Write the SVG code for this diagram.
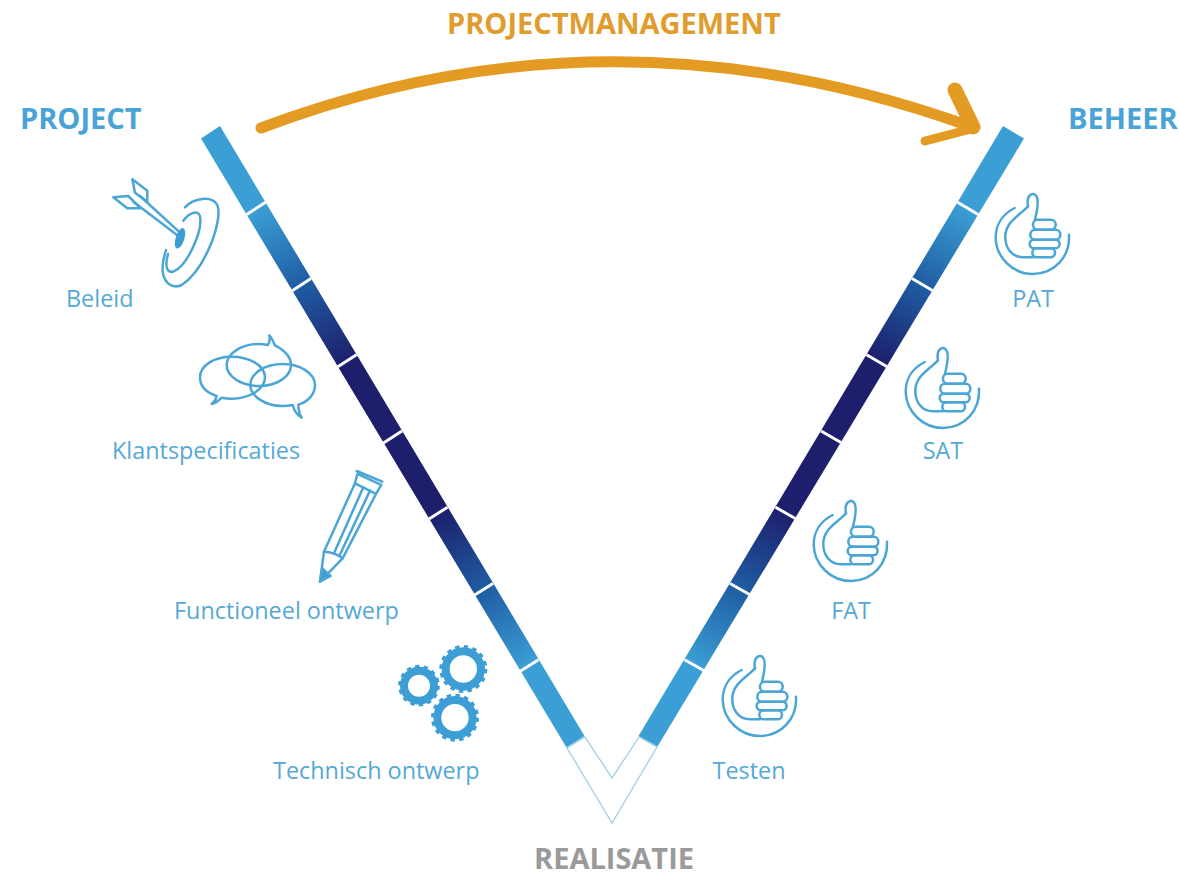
<svg xmlns="http://www.w3.org/2000/svg" width="1179" height="873" viewBox="0 0 1179 873">
<style>
text{font-family:"Open Sans","Liberation Sans",sans-serif}
.h{font-size:29px;font-weight:700;fill:#4aa3d6}
.l{font-size:23.4px;fill:#55a9d4}
.i{fill:none;stroke:#4ba6d6;stroke-width:7.5;stroke-linecap:round;stroke-linejoin:round}
.sep{stroke:#fff;stroke-width:3}
.gr{fill:none;stroke:#3d9dd5}
</style>
<defs>
<linearGradient id="gl" gradientUnits="userSpaceOnUse" x1="211" y1="132" x2="575.5" y2="741.5">
<stop offset=".125" stop-color="#3b9fd5"/><stop offset=".25" stop-color="#1f5da3"/><stop offset=".375" stop-color="#1d1f6c"/><stop offset=".625" stop-color="#1d1f6c"/><stop offset=".75" stop-color="#1f5da3"/><stop offset=".875" stop-color="#3b9fd5"/>
</linearGradient>
<linearGradient id="gr" gradientUnits="userSpaceOnUse" x1="1013" y1="132" x2="648" y2="741">
<stop offset=".125" stop-color="#3b9fd5"/><stop offset=".25" stop-color="#1f5da3"/><stop offset=".375" stop-color="#1d1f6c"/><stop offset=".625" stop-color="#1d1f6c"/><stop offset=".75" stop-color="#1f5da3"/><stop offset=".875" stop-color="#3b9fd5"/>
</linearGradient>
<g id="thumb" class="i" transform="translate(700,640) scale(.3333)">
<path d="M125,90C85,110 68,145 68,180C70,240 120,288 180,288C245,288 292,235 288,170"/>
<path d="M165,85C140,112 100,130 97,172C95,208 115,238 150,238L180,238"/>
<path d="M165,85C160,60 170,47 182,48C198,52 196,85 186,125"/>
<rect x="180" y="125" width="68" height="30" rx="14"/>
<rect x="172" y="155" width="90" height="30" rx="14"/>
<rect x="170" y="185" width="90" height="26" rx="13"/>
<rect x="178" y="211" width="68" height="27" rx="13"/>
</g>
</defs>
<rect width="1179" height="873" fill="#fff"/>

<g id="connectors">
<g id="v-left">
<polygon points="201,138.500 220,126 584.500,736 566.500,747.500" fill="url(#gl)"/>
<line class="sep" x1="246.600" y1="214.600" x2="265.500" y2="202.250"/>
<line class="sep" x1="292.200" y1="290.700" x2="311" y2="278.500"/>
<line class="sep" x1="337.800" y1="366.800" x2="356.500" y2="354.750"/>
<line class="sep" x1="383.400" y1="442.900" x2="402" y2="431"/>
<line class="sep" x1="429" y1="519" x2="447.500" y2="507.250"/>
<line class="sep" x1="474.600" y1="595.100" x2="493" y2="583.500"/>
<line class="sep" x1="520.200" y1="671.200" x2="538.500" y2="659.750"/>
</g>
<g id="v-right">
<polygon points="1024,138.500 1003,126 638.500,736 657.500,746.500" fill="url(#gr)"/>
<line class="sep" x1="978.250" y1="214.500" x2="957.500" y2="202.250"/>
<line class="sep" x1="932.500" y1="290.500" x2="912" y2="278.500"/>
<line class="sep" x1="886.750" y1="366.500" x2="866.500" y2="354.750"/>
<line class="sep" x1="841" y1="442.500" x2="821" y2="431"/>
<line class="sep" x1="795.250" y1="518.500" x2="775.500" y2="507.250"/>
<line class="sep" x1="749.500" y1="594.500" x2="730" y2="583.500"/>
<line class="sep" x1="703.750" y1="670.500" x2="684.500" y2="659.750"/>
</g>
<polygon id="v-tip" points="567,748 612,823 657,747 639,737 612,778 585,737" fill="#fff" stroke="#9fcfe6" stroke-width="1.3"/>
<g id="pm-arrow" fill="none" stroke="#e39b24" stroke-linecap="round" stroke-linejoin="round">
<path d="M261,128Q610,-4 972,127" stroke-width="11"/>
<path d="M955,90L973,127" stroke-width="15"/>
<path d="M975,128L925,141" stroke-width="9"/>
</g>
</g>

<g id="project"><text class="h" x="20" y="129">PROJECT</text></g>
<g id="beheer"><text class="h" x="1068" y="129">BEHEER</text></g>
<g id="projectmanagement"><text class="h" x="447" y="34" style="fill:#e09c2c">PROJECTMANAGEMENT</text></g>
<g id="realisatie"><text class="h" x="534" y="869" style="fill:#9a9a9a">REALISATIE</text></g>

<g id="beleid">
<g class="i" transform="translate(90,110) scale(.3333)">
<path d="M285,292C310,265 365,255 382,285C400,330 345,480 275,525C240,540 215,510 218,470C218,455 222,440 228,420"/>
<path d="M280,332C300,305 330,298 331,325C335,370 290,470 250,485C228,490 225,465 234,432"/>
<path d="M265,378L130,275M270,368L150,258"/>
<path d="M127,208L172,242L172,275L135,248ZM70,262L115,258L152,295L112,295Z"/>
<ellipse cx="270" cy="385" rx="13" ry="32" transform="rotate(18 270 385)" fill="#3d9dd5" stroke="none"/>
</g>
<text class="l" x="66" y="307">Beleid</text>
</g>

<g id="klantspecificaties">
<g class="i" transform="translate(180,320) scale(.3333)">
<path d="M110,228C70,215 60,190 60,172C60,135 105,110 155,110C205,110 255,135 255,172C255,210 205,236 155,236C145,236 135,235 125,233C118,240 108,250 95,252C103,245 108,238 110,228Z"/>
<path d="M285,76C312,90 333,110 333,135C333,170 290,198 237,198C185,198 140,170 140,135C140,100 185,72 237,72C246,72 255,73 263,75C270,68 270,58 268,46C278,55 280,68 285,76Z"/>
<path d="M338,255C325,258 315,258 308,258C255,258 211,228 211,195C211,160 255,132 308,132C360,132 405,160 405,195C405,222 385,245 355,254C355,268 358,282 365,293C350,285 342,270 338,255Z"/>
</g>
<text class="l" x="112" y="459">Klantspecificaties</text>
</g>

<g id="functioneel-ontwerp">
<g class="i" transform="translate(180,320) scale(.3333)">
<path d="M420,785L432,695L525,490L588,522L488,715Z"/>
<path d="M525,490L532,462L604,495L588,522M530,453L607,485"/>
<path d="M550,502L462,700M570,512L478,708"/>
<path d="M432,695C450,695 478,705 488,715"/>
<path d="M420,785L427,745L452,768Z" fill="#3d9dd5"/>
</g>
<text class="l" x="174" y="619">Functioneel ontwerp</text>
</g>

<g id="technisch-ontwerp">
<g transform="translate(380,630) scale(.3333)">
<circle class="gr" cx="117" cy="167" r="45" stroke-width="24"/>
<circle class="gr" cx="117" cy="167" r="58" stroke-width="9" pathLength="28" stroke-dasharray="1 1"/>
<circle class="gr" cx="250" cy="117" r="53" stroke-width="24"/>
<circle class="gr" cx="250" cy="117" r="67" stroke-width="10" pathLength="32" stroke-dasharray="1 1"/>
<circle class="gr" cx="225" cy="263" r="53" stroke-width="24"/>
<circle class="gr" cx="225" cy="263" r="67" stroke-width="10" pathLength="32" stroke-dasharray="1 1"/>
</g>
<text class="l" x="273" y="779">Technisch ontwerp</text>
</g>

<g id="pat"><use href="#thumb" transform="translate(273,-462)"/><text class="l" x="1033" y="307" text-anchor="middle">PAT</text></g>
<g id="sat"><use href="#thumb" transform="translate(183,-308)"/><text class="l" x="943" y="459" text-anchor="middle">SAT</text></g>
<g id="fat"><use href="#thumb" transform="translate(91,-155)"/><text class="l" x="851" y="619" text-anchor="middle">FAT</text></g>
<g id="testen"><use href="#thumb"/><text class="l" x="749" y="779" text-anchor="middle">Testen</text></g>
</svg>
